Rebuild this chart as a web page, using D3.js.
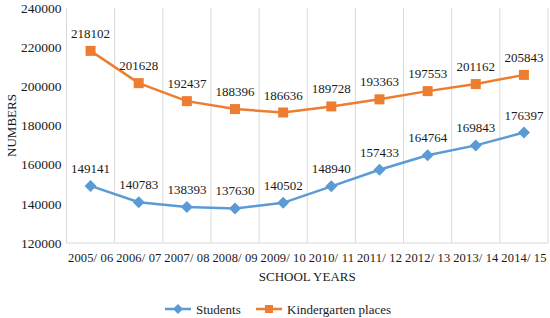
<!DOCTYPE html>
<html>
<head>
<meta charset="utf-8">
<script src="https://cdn.jsdelivr.net/npm/d3@7"></script>
<style>
  body { margin: 0; background: #fff; }
</style>
</head>
<body>
<div id="chart"></div>
<script>
const years = ['2005/ 06', '2006/ 07', '2007/ 08', '2008/ 09', '2009/ 10',
  '2010/ 11', '2011/ 12', '2012/ 13', '2013/ 14', '2014/ 15'];
const students = [149141, 140783, 138393, 137630, 140502, 148940, 157433, 164764, 169843, 176397];
const kindergarten = [218102, 201628, 192437, 188396, 186636, 189728, 193363, 197553, 201162, 205843];
const yTicks = [120000, 140000, 160000, 180000, 200000, 220000, 240000];

const BLUE = '#5B9BD5';
const ORANGE = '#ED7D31';
const FONT = "'Liberation Serif', 'DejaVu Serif', Tinos, 'Times New Roman', serif";
const TEXT = '#1a1a1a';
const width = 550, height = 318;
const margin = { top: 8, right: 2, bottom: 75, left: 66.5 };
const innerW = width - margin.left - margin.right;
const innerH = height - margin.top - margin.bottom;

const svg = d3.select('#chart').append('svg')
  .attr('width', width).attr('height', height)
  .style('font-family', FONT);
const g = svg.append('g').attr('transform', `translate(${margin.left},${margin.top})`);

const x = d3.scaleBand().domain(years).range([0, innerW]);
const y = d3.scaleLinear().domain([120000, 240000]).range([innerH, 0]);
const cx = (i) => x(years[i]) + x.bandwidth() / 2;

// wide diamond like Excel's marker
const diamond = (r) => `M0,${-r}L${r},0L0,${r}L${-r},0Z`;
const square = (r) => `M${-r},${-r}H${r}V${r}H${-r}Z`;

// vertical gridlines at category boundaries
const bounds = years.map(d => x(d)).concat([innerW]);
g.selectAll('.vgrid').data(bounds).enter().append('line')
  .attr('x1', d => d).attr('x2', d => d)
  .attr('y1', 0).attr('y2', innerH)
  .attr('stroke', '#d9d9d9').attr('stroke-width', 1);

g.append('line')
  .attr('x1', 0).attr('x2', innerW).attr('y1', innerH).attr('y2', innerH)
  .attr('stroke', '#d9d9d9');

// y tick labels
g.selectAll('.ytick').data(yTicks).enter().append('text')
  .attr('x', -5).attr('y', d => y(d)).attr('dy', '0.35em')
  .attr('text-anchor', 'end').attr('font-size', '13.5px').attr('fill', TEXT)
  .text(d => d);

// x tick labels, stretched to fill each band like the original
g.selectAll('.xtick').data(years).enter().append('text')
  .attr('x', d => x(d) + x.bandwidth() / 2).attr('y', innerH + 19)
  .attr('text-anchor', 'middle').attr('font-size', '12.5px').attr('fill', TEXT)
  .attr('textLength', x.bandwidth() - 3).attr('lengthAdjust', 'spacing')
  .text(d => d);

g.append('text')
  .attr('x', innerW / 2).attr('y', innerH + 38)
  .attr('text-anchor', 'middle').attr('font-size', '13px').attr('fill', TEXT)
  .text('SCHOOL YEARS');

svg.append('text')
  .attr('transform', `translate(16,${margin.top + innerH / 2}) rotate(-90)`)
  .attr('text-anchor', 'middle').attr('font-size', '13px').attr('fill', TEXT)
  .text('NUMBERS');

const line = d3.line()
  .x((d, i) => cx(i))
  .y(d => y(d));

function drawSeries(vals, color, shape) {
  g.append('path').datum(vals)
    .attr('d', line).attr('fill', 'none')
    .attr('stroke', color).attr('stroke-width', 2.5);
  g.selectAll(null).data(vals).enter().append('path')
    .attr('d', shape)
    .attr('transform', (d, i) => `translate(${cx(i)},${y(d)})`)
    .attr('fill', color);
  g.selectAll(null).data(vals).enter().append('text')
    .attr('x', (d, i) => cx(i))
    .attr('y', d => y(d) - 13)
    .attr('text-anchor', 'middle').attr('font-size', '13px').attr('fill', TEXT)
    .text(d => d);
}

drawSeries(students, BLUE, diamond(6));
drawSeries(kindergarten, ORANGE, square(5));

// legend
const leg = svg.append('g').attr('transform', `translate(0,${height - 9})`);
const items = [
  { label: 'Students', color: BLUE, shape: diamond(5), x: 165 },
  { label: 'Kindergarten places', color: ORANGE, shape: square(4), x: 256 }
];
items.forEach(it => {
  leg.append('line').attr('x1', it.x).attr('x2', it.x + 26)
    .attr('y1', 0).attr('y2', 0)
    .attr('stroke', it.color).attr('stroke-width', 2.5);
  leg.append('path')
    .attr('d', it.shape)
    .attr('transform', `translate(${it.x + 13},0)`)
    .attr('fill', it.color);
  leg.append('text').attr('x', it.x + 31).attr('y', 0).attr('dy', '0.35em')
    .attr('font-size', '13px').attr('fill', TEXT).text(it.label);
});
</script>
</body>
</html>
